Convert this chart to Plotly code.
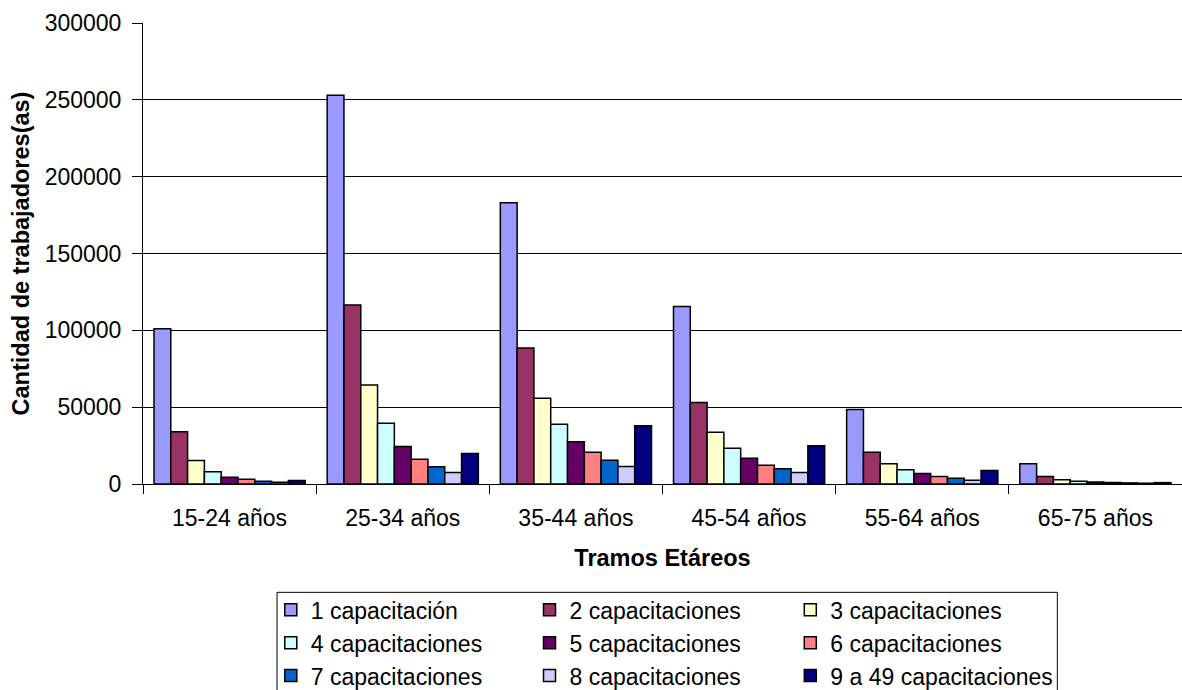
import plotly.graph_objects as go

# Age brackets (x categories)
tramos = ["15-24 años", "25-34 años", "35-44 años", "45-54 años", "55-64 años", "65-75 años"]

# Workers by number of training courses taken, per age bracket
cap_1 = [101000, 253000, 183000, 115500, 48500, 13200]
cap_2 = [34000, 116500, 88500, 53000, 20700, 4900]
cap_3 = [15300, 64500, 55800, 33700, 13100, 2700]
cap_4 = [7900, 39500, 38900, 23300, 9200, 1800]
cap_5 = [4400, 24400, 27500, 16800, 6800, 1300]
cap_6 = [3100, 16100, 20700, 12200, 4900, 1000]
cap_7 = [1800, 11200, 15500, 9900, 3800, 700]
cap_8 = [1200, 7500, 11400, 7500, 2500, 500]
cap_9 = [2300, 19800, 37900, 24900, 8800, 900]

series_names = [
    "1 capacitación", "2 capacitaciones", "3 capacitaciones",
    "4 capacitaciones", "5 capacitaciones", "6 capacitaciones",
    "7 capacitaciones", "8 capacitaciones", "9 a 49 capacitaciones",
]
series_values = [cap_1, cap_2, cap_3, cap_4, cap_5, cap_6, cap_7, cap_8, cap_9]
series_colors = [
    "#9999FF", "#993366", "#FFFFCC",
    "#CCFFFF", "#660066", "#FF8080",
    "#0066CC", "#CCCCFF", "#000080",
]

FONT = "Arial, Liberation Sans, sans-serif"

fig = go.Figure()
for i, (name, vals, col) in enumerate(zip(series_names, series_values, series_colors)):
    # legend columns: series 1,4,7 / 2,5,8 / 3,6,9
    leg = ["legend", "legend2", "legend3"][i % 3]
    fig.add_trace(go.Bar(
        x=tramos, y=vals, name=name,
        marker=dict(color=col, line=dict(color="black", width=1.5)),
        legend=leg, legendgroup=name,
    ))

legend_common = dict(
    orientation="v", yanchor="top", xanchor="left", y=-0.2264,
    bgcolor="rgba(0,0,0,0)", borderwidth=0,
    font=dict(family=FONT, size=23, color="black"),
    tracegroupgap=0, itemclick=False,
)

fig.update_layout(
    width=1182, height=690,
    margin=dict(l=143, r=0, t=23, b=205.5, autoexpand=False),
    paper_bgcolor="white", plot_bgcolor="white",
    barmode="group", bargap=0.127, bargroupgap=0,
    font=dict(family=FONT, size=23, color="black"),
    legend=dict(x=0.123, **legend_common),
    legend2=dict(x=0.372, **legend_common),
    legend3=dict(x=0.623, **legend_common),
    xaxis=dict(
        title=dict(text="<b>Tramos Etáreos</b>", font=dict(size=23.5), standoff=19),
        tickson="boundaries", ticks="outside", ticklen=9, tickcolor="black",
        ticklabelstandoff=13,
        showline=True, linecolor="black", linewidth=1,
        showgrid=False, tickfont=dict(size=23),
    ),
    yaxis=dict(
        title=dict(text="<b>Cantidad de trabajadores(as)</b>", font=dict(size=23.5), standoff=8),
        range=[0, 300000], dtick=50000, tickformat="d",
        ticks="outside", ticklen=10, tickcolor="black",
        ticklabelstandoff=6,
        showline=True, linecolor="black", linewidth=1,
        showgrid=True, gridcolor="black", gridwidth=1,
        zeroline=False, tickfont=dict(size=23),
    ),
    shapes=[dict(
        type="rect", xref="paper", yref="paper",
        x0=0.129, x1=0.880, y0=-0.235, y1=-0.52,
        line=dict(color="black", width=1), fillcolor="rgba(0,0,0,0)",
        layer="above",
    )],
)

fig.write_html("out.html")
